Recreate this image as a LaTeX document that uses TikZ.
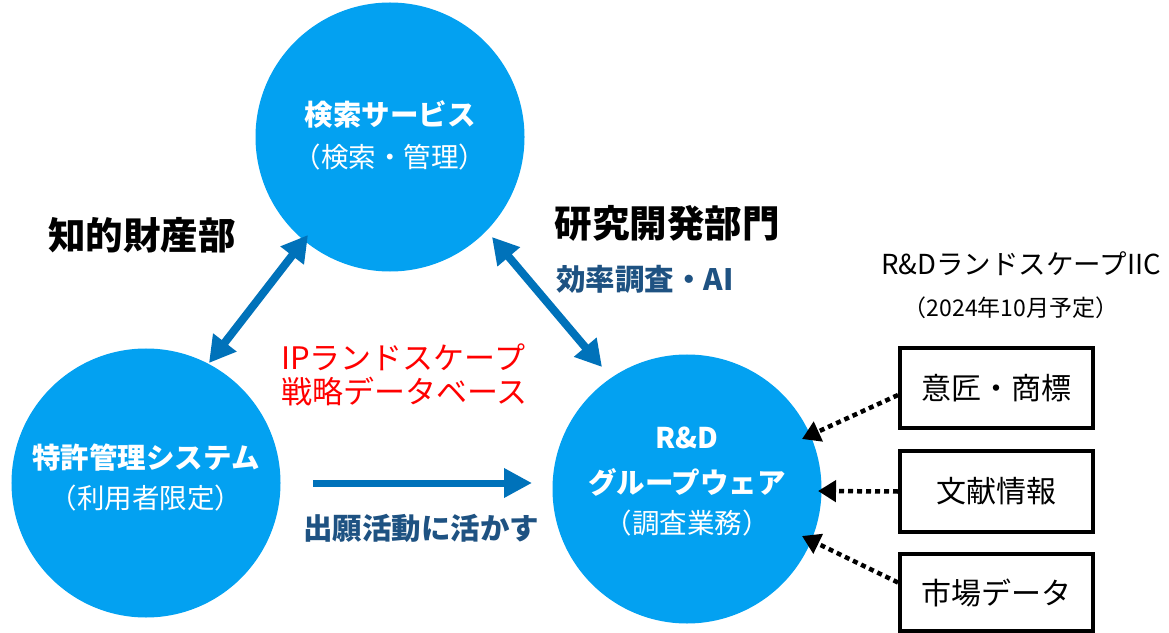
\documentclass[tikz,border=0pt]{standalone}
\usepackage{fontspec}
\setmainfont{Noto Sans CJK JP}
\usetikzlibrary{arrows.meta}
\definecolor{circblue}{RGB}{3,161,241}
\definecolor{arrblue}{RGB}{0,114,186}
\definecolor{navytext}{RGB}{30,82,130}
\definecolor{redtext}{RGB}{255,0,0}
\begin{document}
\begin{tikzpicture}[x=1bp,y=-1bp,
  circ/.style={circle, fill=circblue, minimum size=269bp, inner sep=0pt},
  ctitle/.style={text=white, inner sep=0pt, font=\bfseries\fontsize{28.5bp}{32bp}\selectfont},
  csub/.style={text=white, inner sep=0pt, font=\fontsize{27.5bp}{30bp}\selectfont},
  dept/.style={text=black, inner sep=0pt, font=\bfseries\fontsize{37.5bp}{42bp}\selectfont},
  navylab/.style={text=navytext, inner sep=0pt, font=\bfseries\fontsize{29.5bp}{34bp}\selectfont},
  redlab/.style={text=redtext, inner sep=0pt, font=\fontsize{31bp}{36bp}\selectfont},
  iic/.style={text=black, inner sep=0pt, font=\fontsize{27.5bp}{30bp}\selectfont},
  iicsub/.style={text=black, inner sep=0pt, font=\fontsize{23bp}{26bp}\selectfont},
  srcbox/.style={draw=black, line width=4bp, fill=white, minimum width=193bp, inner sep=0pt, font=\fontsize{30bp}{36bp}\selectfont},
  bluearrow/.style={draw=arrblue, line width=8bp, {Triangle[length=26bp,width=28bp]}-{Triangle[length=26bp,width=28bp]}},
  onearrow/.style={draw=arrblue, line width=7bp, -{Triangle[length=28bp,width=28bp]}},
  dotarrow/.style={draw=black, line width=4.5bp, dash pattern=on 5bp off 4bp, -{Triangle[length=18bp,width=21bp]}}
]
\useasboundingbox (0,0) rectangle (1169,633);
\fill[white] (0,0) rectangle (1169,633);

% circles
\node[circ] (srch) at (390,137) {};
\node[ctitle] (srcht) at (390,115) {検索サービス};
\node[csub] (srchs) at (390,157) {（検索・管理）};

\node[circ] (pat) at (146,483) {};
\node[ctitle] (patt) at (146,458) {特許管理システム};
\node[csub] (pats) at (146,498) {（利用者限定）};

\node[circ] (rd) at (687,489) {};
\node[ctitle] (rdt1) at (687,438) {R\&D};
\node[ctitle] (rdt2) at (687,482) {グループウェア};
\node[csub] (rds) at (687,523) {（調査業務）};

% labels
\node[dept] (ipd) at (142,235) {知的財産部};
\node[dept] (rdd) at (667,223) {研究開発部門};
\node[navylab, anchor=west] (eff) at (556,279) {効率調査・AI};
\node[redlab, anchor=west] (red1) at (281,357) {IPランドスケープ};
\node[redlab, anchor=west] (red2) at (281,392) {戦略データベース};
\node[navylab] (app) at (421,528) {出願活動に活かす};
\node[iic] (iic1) at (1021,264) {R\&DランドスケープIIC};
\node[iicsub] (iic2) at (1011,308) {（2024年10月予定）};

% blue arrows
\coordinate (a1s) at (209,363);
\coordinate (a1e) at (308,235);
\draw[bluearrow] (a1s) -- (a1e);
\coordinate (a2s) at (492,237);
\coordinate (a2e) at (602,367);
\draw[bluearrow] (a2s) -- (a2e);
\coordinate (h1) at (313,483);
\coordinate (h2) at (532,483);
\draw[onearrow] (h1) -- (h2);

% boxes
\node[srcbox, minimum height=80bp] (b1) at (996.5,388) {意匠・商標};
\node[srcbox, minimum height=81bp] (b2) at (996.5,491.5) {文献情報};
\node[srcbox, minimum height=77bp] (b3) at (996.5,592.5) {市場データ};

% dotted arrows
\coordinate (d1) at (802,439);
\coordinate (d2) at (818,491);
\coordinate (d3) at (802,536);
\draw[dotarrow] ([yshift=-7bp]b1.west) -- (d1);
\draw[dotarrow] (b2.west) -- (d2);
\draw[dotarrow] ([yshift=10bp]b3.west) -- (d3);
\end{tikzpicture}
\end{document}
